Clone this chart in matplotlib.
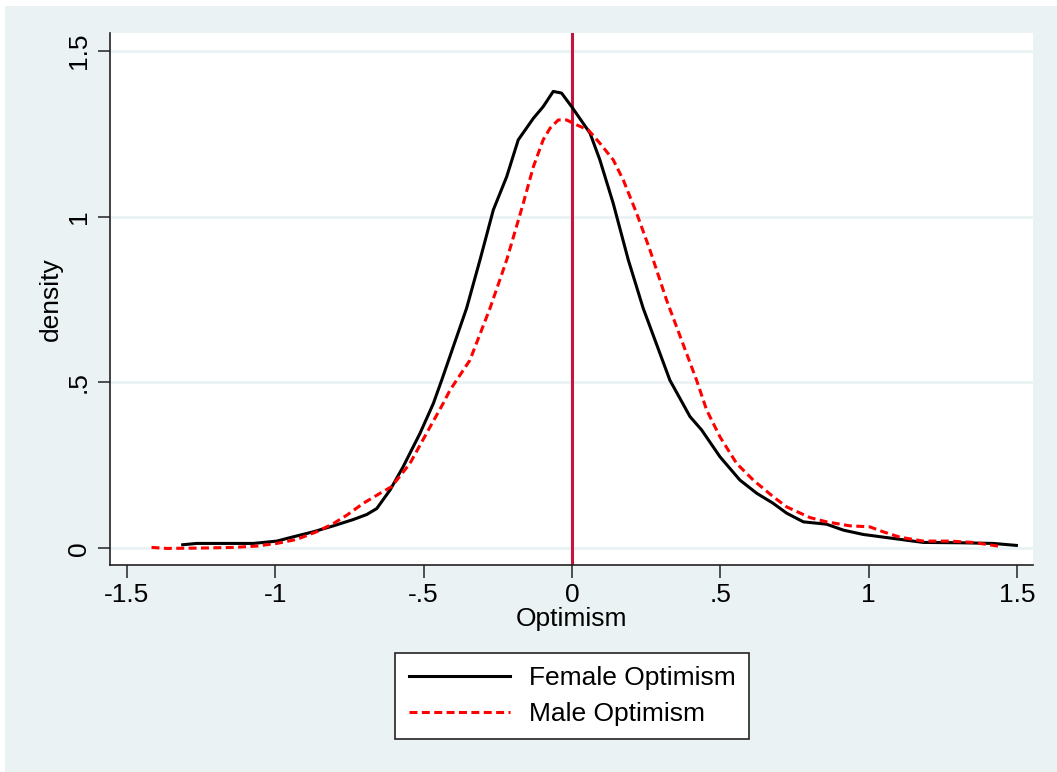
import matplotlib
matplotlib.use("Agg")
import matplotlib.pyplot as plt
from matplotlib.patches import Rectangle

# density curves
female_x = [-1.312, -1.265, -1.164, -1.074, -0.995, -0.939, -0.872, -0.804, -0.737, -0.692,
            -0.658, -0.613, -0.569, -0.512, -0.467, -0.439, -0.355, -0.310, -0.265, -0.220,
            -0.181, -0.130, -0.097, -0.063, -0.035, -0.001, 0.061, 0.094, 0.139, 0.190,
            0.240, 0.330, 0.398, 0.437, 0.499, 0.566, 0.623, 0.678, 0.724, 0.780,
            0.858, 0.915, 0.982, 1.083, 1.184, 1.308, 1.420, 1.498]
female_y = [0.011, 0.015, 0.015, 0.015, 0.022, 0.035, 0.050, 0.068, 0.087, 0.102,
            0.120, 0.176, 0.246, 0.347, 0.437, 0.507, 0.724, 0.869, 1.020, 1.120,
            1.231, 1.296, 1.331, 1.377, 1.372, 1.331, 1.251, 1.171, 1.040, 0.869,
            0.724, 0.507, 0.397, 0.357, 0.276, 0.206, 0.166, 0.136, 0.106, 0.080,
            0.073, 0.055, 0.042, 0.030, 0.018, 0.017, 0.015, 0.009]

male_x = [-1.417, -1.366, -1.254, -1.142, -1.063, -0.995, -0.928, -0.861, -0.804, -0.759,
          -0.703, -0.647, -0.608, -0.546, -0.490, -0.434, -0.411, -0.344, -0.276, -0.220,
          -0.164, -0.130, -0.097, -0.074, -0.046, -0.018, 0.016, 0.055, 0.094, 0.139,
          0.173, 0.218, 0.263, 0.319, 0.420, 0.454, 0.499, 0.555, 0.611, 0.678,
          0.724, 0.802, 0.858, 0.937, 1.004, 1.049, 1.105, 1.184, 1.274, 1.352, 1.436]
male_y = [0.003, 0.000, 0.001, 0.003, 0.007, 0.015, 0.027, 0.050, 0.075, 0.100,
          0.136, 0.166, 0.186, 0.256, 0.347, 0.437, 0.477, 0.567, 0.724, 0.869,
          1.040, 1.150, 1.231, 1.266, 1.291, 1.291, 1.276, 1.261, 1.221, 1.171,
          1.110, 1.010, 0.899, 0.748, 0.507, 0.417, 0.336, 0.256, 0.206, 0.156,
          0.125, 0.093, 0.080, 0.068, 0.065, 0.050, 0.034, 0.022, 0.022, 0.018, 0.007]

xticks = [-1.5, -1, -0.5, 0, 0.5, 1, 1.5]
xtick_labels = ["-1.5", "-1", "-.5", "0", ".5", "1", "1.5"]
yticks = [0, 0.5, 1, 1.5]
ytick_labels = ["0", ".5", "1", "1.5"]

bg = "#EAF2F3"
plt.rcParams["font.family"] = ["Liberation Sans", "DejaVu Sans"]
fs = 19

fig = plt.figure(figsize=(10.57, 7.72), dpi=100, facecolor="white")
# stata style light background, thin white edge on left and top
fig.patches.append(Rectangle((5 / 1057, 0), 1, 1 - 6 / 772, transform=fig.transFigure,
                             facecolor=bg, edgecolor="none", zorder=-10))

ax = fig.add_axes([110 / 1057, 1 - 565 / 772, 923 / 1057, 532 / 772])
ax.set_facecolor("white")

for y in yticks:
    ax.axhline(y, color=bg, lw=2, zorder=1)
ax.axvline(0, color="#C8143C", lw=2.2, zorder=2)

ax.plot(female_x, female_y, color="black", lw=2.2, label="Female Optimism", zorder=3)
ax.plot(male_x, male_y, color="red", lw=2.2, dashes=(2.6, 1.45), label="Male Optimism", zorder=3)

ax.set_xlim(-1.557, 1.554)
ax.set_ylim(-0.05, 1.553)
ax.set_xticks(xticks)
ax.set_xticklabels(xtick_labels, fontsize=fs)
ax.set_yticks(yticks)
ax.set_yticklabels(ytick_labels, fontsize=fs, rotation=90, va="center")
ax.tick_params(direction="out", length=9, width=1.2, color="#333333", pad=4)
ax.tick_params(axis="y", pad=5)

for s in ["top", "right"]:
    ax.spines[s].set_visible(False)
for s in ["left", "bottom"]:
    ax.spines[s].set_color("#222222")
    ax.spines[s].set_linewidth(1.2)

ax.set_xlabel("Optimism", fontsize=fs, labelpad=0)
ax.set_ylabel("density", fontsize=fs, labelpad=3)

leg = fig.legend(loc="center", bbox_to_anchor=(572 / 1057, 1 - 696 / 772), fontsize=fs,
                 frameon=True, fancybox=False, handlelength=3.85, handletextpad=0.7,
                 labelspacing=0.47, borderpad=0.5)
leg.get_frame().set_edgecolor("#222222")
leg.get_frame().set_linewidth(1.2)
leg.get_frame().set_facecolor("white")
leg.get_frame().set_alpha(1)

fig.savefig("out.png", dpi=100, facecolor=fig.get_facecolor())
